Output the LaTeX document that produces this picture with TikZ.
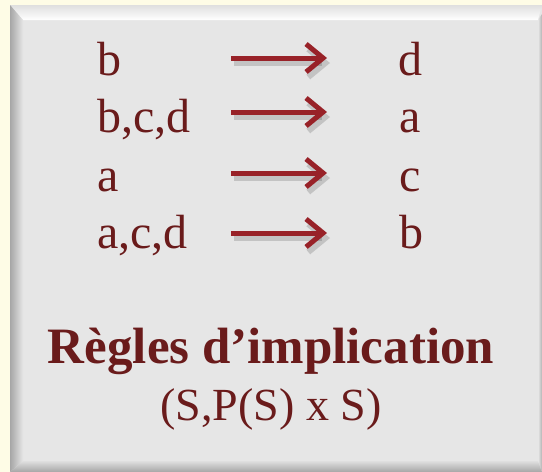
\documentclass[tikz,border=0pt]{standalone}
\usepackage{fontspec}
\setmainfont{Liberation Serif}
\usetikzlibrary{calc,positioning,arrows.meta}
\definecolor{cream}{HTML}{FEFCE6}
\definecolor{panel}{HTML}{E6E6E6}
\definecolor{wine}{HTML}{6A1B1B}
\definecolor{arrowred}{HTML}{982228}
\tikzset{
  item/.style={anchor=base west, text=wine, inner sep=0pt, font=\fontsize{48}{48}\selectfont},
  title/.style={anchor=base, text=wine, inner sep=0pt, font=\fontsize{51}{51}\selectfont\bfseries},
  subtitle/.style={anchor=base, text=wine, inner sep=0pt, font=\fontsize{46}{46}\selectfont},
  implies/.style={draw=arrowred, line width=5pt, -{Straight Barb[length=17pt,width=28pt]}},
  implshadow/.style={draw=black, opacity=0.15, line width=6pt, -{Straight Barb[length=17pt,width=28pt]}}
}

\begin{document}
\begin{tikzpicture}[x=1pt,y=-1pt]
  \fill[cream] (0,0) rectangle (542,472);
  \useasboundingbox (0,0) rectangle (542,472);
  % bevelled panel
  \fill[panel] (10,5) rectangle (542,472);
  \shade[top color=gray!25, bottom color=white] (10,5) -- (542,5) -- (538,20) -- (23,20) -- cycle;
  \shade[left color=gray!70, right color=gray!20] (10,5) -- (23,20) -- (23,461) -- (10,472) -- cycle;
  \shade[left color=gray!20, right color=gray!60] (538,20) -- (542,14) -- (542,472) -- (538,461) -- cycle;
  \shade[top color=gray!25, bottom color=gray!70] (23,461) -- (538,461) -- (542,472) -- (10,472) -- cycle;

  % left and right sides of the rules
  \node[item] (l1) at (97,75) {b};
  \node[item] (l2) at (97,132) {b,c,d};
  \node[item] (l3) at (97,191) {a};
  \node[item] (l4) at (97,248) {a,c,d};
  \node[item] (r1) at (398,75) {d};
  \node[item] (r2) at (399,132) {a};
  \node[item] (r3) at (399,191) {c};
  \node[item] (r4) at (399,248) {b};

  \foreach \i/\y in {1/58,2/112,3/173,4/233}{
    \coordinate (t\i) at (231,\y);
    \coordinate (h\i) at (327,\y);
    \draw[implshadow] ($(t\i)+(3,5)$) -- ($(h\i)+(3,5)$);
    \draw[implies] (t\i) -- (h\i);
  }

  \node[title] (ttl) at (271,363) {Règles d’implication};
  \node[subtitle] (sub) at (271,420) {(S,P(S) x S)};
\end{tikzpicture}
\end{document}
